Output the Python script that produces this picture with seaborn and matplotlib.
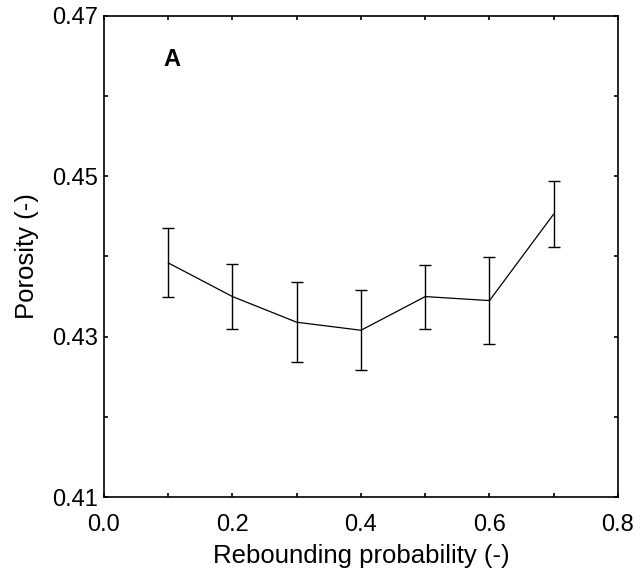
import matplotlib
matplotlib.use("Agg")
import matplotlib.pyplot as plt
import pandas as pd
import seaborn as sns
from matplotlib.ticker import FixedLocator, MultipleLocator

rebound_prob = [0.1, 0.2, 0.3, 0.4, 0.5, 0.6, 0.7]
porosity = [0.4392, 0.4350, 0.4318, 0.4308, 0.4350, 0.4345, 0.4453]
porosity_err = [0.0043, 0.0041, 0.0050, 0.0050, 0.0040, 0.0054, 0.0041]

y_major = [0.41, 0.43, 0.45, 0.47]
y_minor = [0.42, 0.44, 0.46]


def main() -> None:
    df = pd.DataFrame({"p": rebound_prob, "phi": porosity, "err": porosity_err})

    sns.set_theme(style="ticks")
    plt.rcParams["font.family"] = ["Liberation Sans", "DejaVu Sans"]
    plt.rcParams["text.color"] = "black"
    plt.rcParams["axes.labelcolor"] = "black"
    plt.rcParams["xtick.color"] = "black"
    plt.rcParams["ytick.color"] = "black"

    fig = plt.figure(figsize=(6.4, 5.79), dpi=100)
    ax = fig.add_axes([0.1625, 0.1416, 0.8031, 0.8308])

    sns.lineplot(data=df, x="p", y="phi", ax=ax, color="black", linewidth=0.9)
    ax.errorbar(df["p"], df["phi"], yerr=df["err"], fmt="none",
                ecolor="black", elinewidth=1.0, capsize=4, capthick=1.0)

    ax.set_xlim(0.0, 0.8)
    ax.set_ylim(0.41, 0.47)
    ax.xaxis.set_major_locator(MultipleLocator(0.2))
    ax.xaxis.set_minor_locator(MultipleLocator(0.1))
    ax.yaxis.set_major_locator(FixedLocator(y_major))
    ax.yaxis.set_minor_locator(FixedLocator(y_minor))
    ax.xaxis.set_major_formatter(plt.FormatStrFormatter("%.1f"))
    ax.yaxis.set_major_formatter(plt.FormatStrFormatter("%.2f"))

    ax.tick_params(which="both", direction="in", top=True, right=True,
                   length=3, width=1.2, colors="black", labelsize=17)
    ax.tick_params(axis="x", pad=12)
    ax.tick_params(axis="y", pad=4)
    for side in ax.spines.values():
        side.set_color("black")
        side.set_linewidth(1.2)

    ax.set_xlabel("Rebounding probability (-)", fontsize=18.5, labelpad=6)
    ax.set_ylabel("Porosity (-)", fontsize=18.5, labelpad=10)
    ax.text(0.132, 0.91, "A", transform=ax.transAxes, fontsize=17,
            fontweight="bold", ha="center", va="center")

    fig.savefig("out.png", dpi=100)
    plt.close(fig)


if __name__ == "__main__":
    main()
